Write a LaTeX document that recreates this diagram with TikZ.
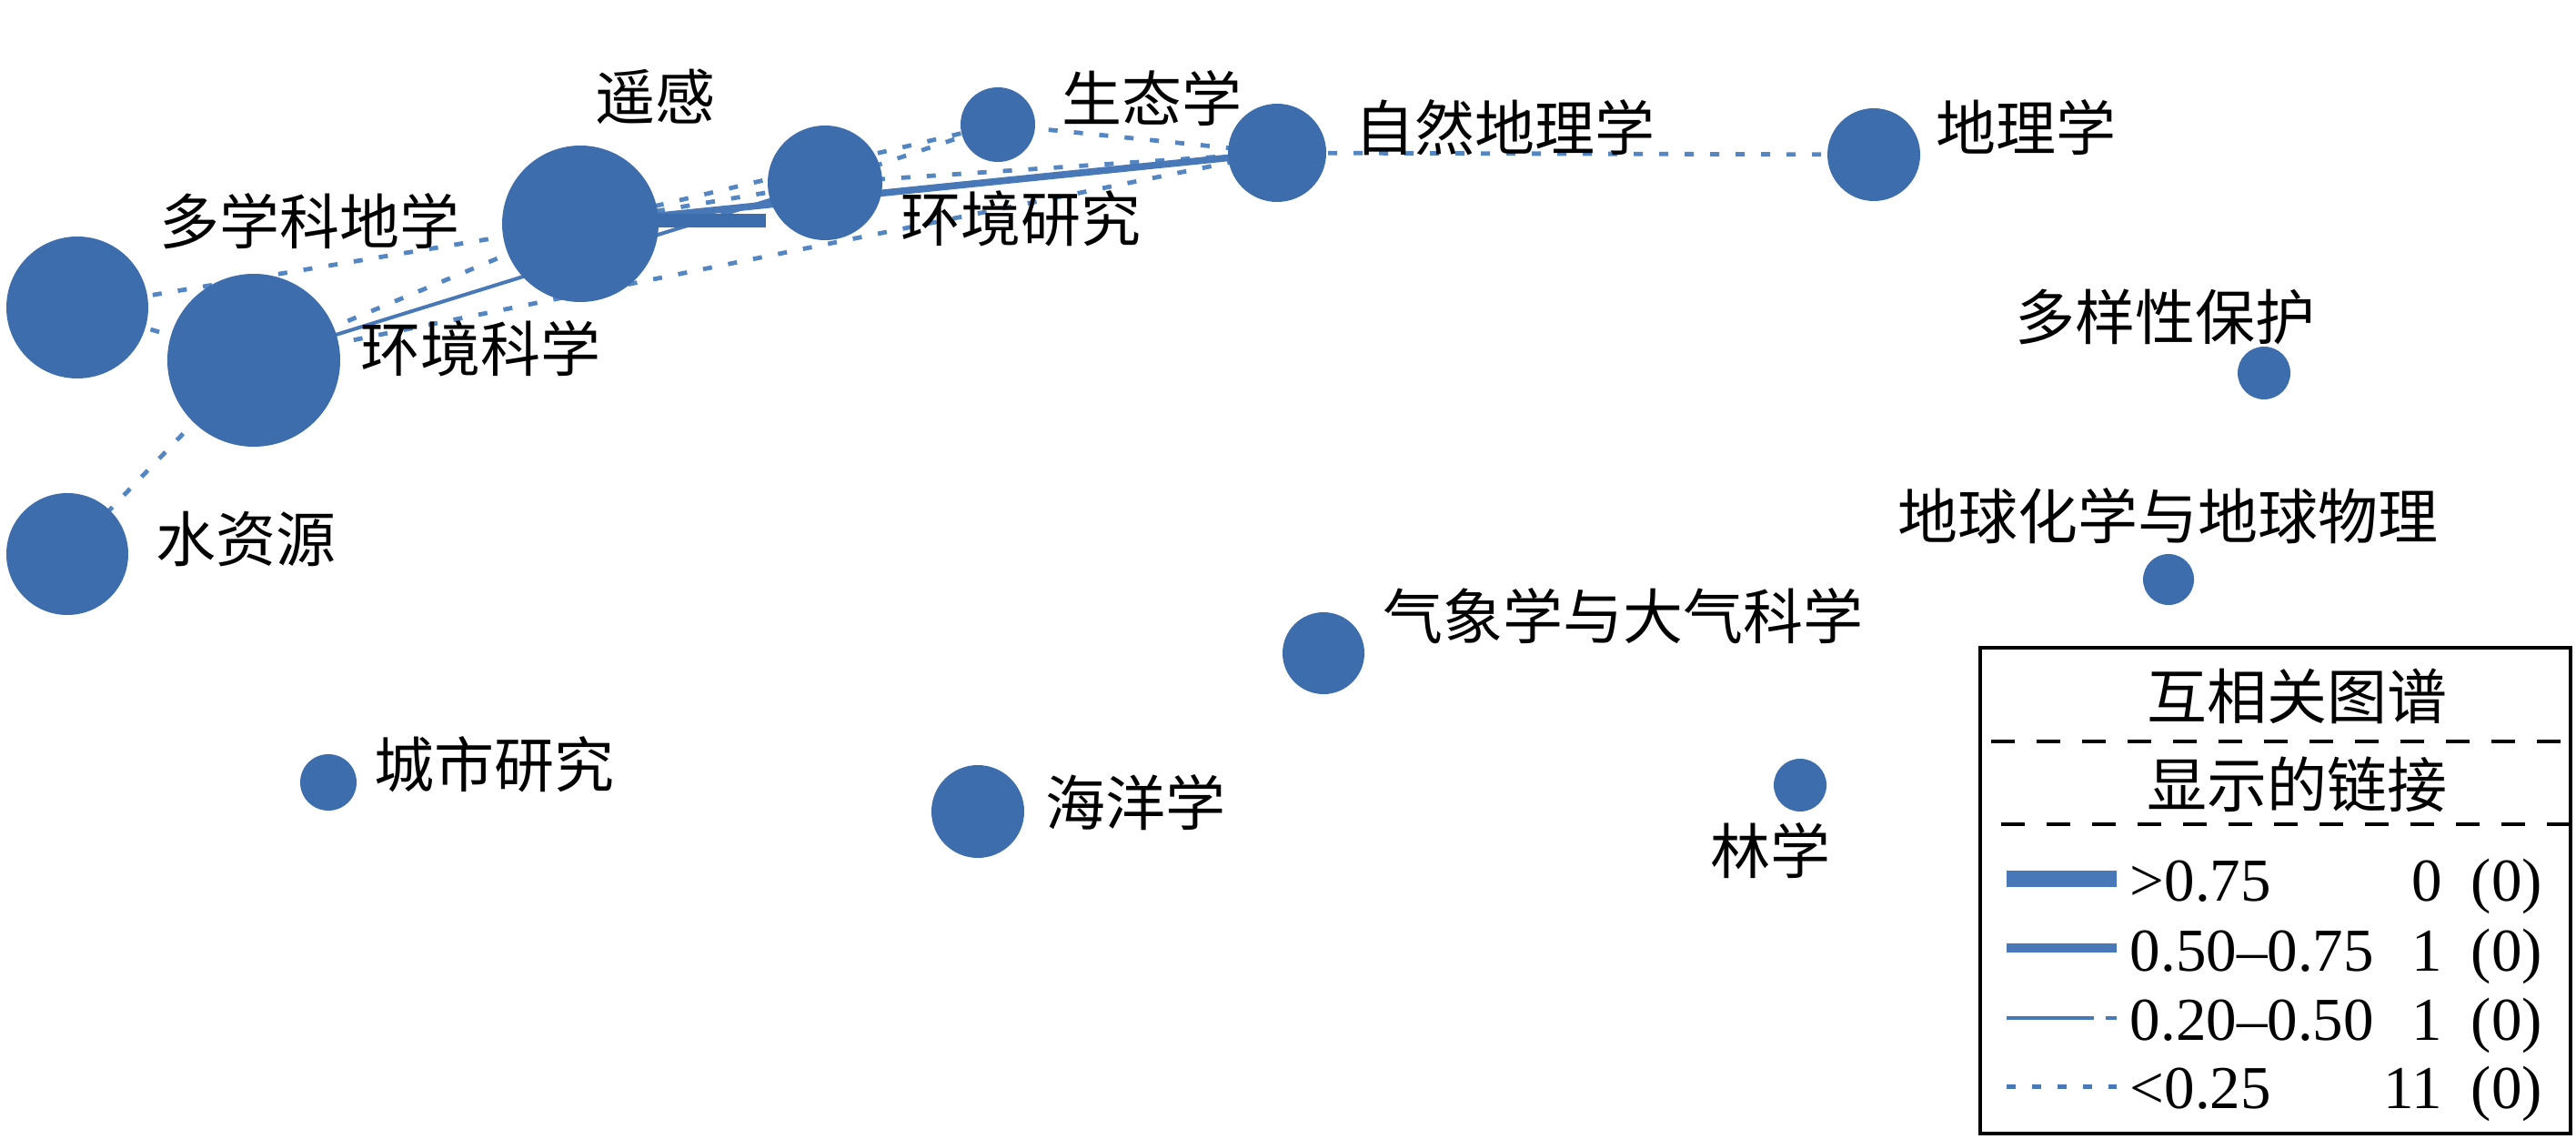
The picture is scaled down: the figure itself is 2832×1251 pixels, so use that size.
\documentclass[tikz,border=0pt]{standalone}
\usepackage{fontspec}
\setmainfont{Liberation Serif}
\newfontfamily\cjk{Noto Sans CJK SC}
\usetikzlibrary{backgrounds}
\definecolor{nb}{RGB}{62,109,174}
\definecolor{lb}{RGB}{84,134,196}
\definecolor{sb}{RGB}{72,120,184}
\begin{document}
\begin{tikzpicture}[x=0.25pt,y=-0.25pt,
  bub/.style={circle,fill=nb,draw=none,inner sep=0pt,minimum size={#1*0.5pt}},
  lab/.style={inner sep=0pt,text=black,font=\cjk\fontsize{16.5pt}{18pt}\selectfont},
  num/.style={inner sep=0pt,text=black,font=\fontsize{16.75pt}{18pt}\selectfont},
  weak/.style={draw=lb,line width=1.2pt,dash pattern=on 2.5pt off 4.5pt},
  midlink/.style={draw=sb,line width=1pt},
  stronglink/.style={draw=sb,line width=1.9pt},
  sep/.style={draw=black,line width=1.2pt,dash pattern=on 6.5pt off 6pt}
]
\useasboundingbox (0,0) rectangle (2832,1251);

% bubbles
\node[bub=78] (dx)   at (85,338)   {};
\node[bub=95] (hjkx) at (279,396)  {};
\node[bub=86] (yg)   at (638,246)  {};
\node[bub=63] (hjyj) at (907,201)  {};
\node[bub=41] (sty)  at (1097,137) {};
\node[bub=54] (zrdl) at (1404,168) {};
\node[bub=51] (dlx)  at (2060,170) {};
\node[bub=29] (dyx)  at (2489,410) {};
\node[bub=28] (dqhx) at (2384,637) {};
\node[bub=45] (qxx)  at (1455,718) {};
\node[bub=51] (hyx)  at (1075,892) {};
\node[bub=29] (lx)   at (1979,863) {};
\node[bub=31] (cs)   at (361,860)  {};
\node[bub=67] (szy)  at (74,609)   {};

% labels
\node[lab] (t-yg)   at (720,106)  {遥感};
\node[lab] (t-dx)   at (340,243)  {多学科地学};
\node[lab] (t-hjkx) at (528,383)  {环境科学};
\node[lab] (t-hjyj) at (1122,240) {环境研究};
\node[lab] (t-sty)  at (1266,108) {生态学};
\node[lab] (t-zrdl) at (1654,140) {自然地理学};
\node[lab] (t-dlx)  at (2227,140) {地理学};
\node[lab] (t-dyx)  at (2380,348) {多样性保护};
\node[lab] (t-dqhx) at (2383,567) {地球化学与地球物理};
\node[lab] (t-qxx)  at (1784,677) {气象学与大气科学};
\node[lab] (t-hyx)  at (1248,882) {海洋学};
\node[lab] (t-lx)   at (1946,935) {林学};
\node[lab] (t-cs)   at (543,840)  {城市研究};
\node[lab] (t-szy)  at (270,593)  {水资源};

% links behind the bubbles
\begin{pgfonlayer}{background}
  \fill[white] (0,0) rectangle (2832,1251);
  \draw[weak] (dx.center) -- (yg.center);
  \draw[weak] (dx.center) -- (hjkx.center);
  \draw[weak] (hjkx.center) -- (szy.center);
  \draw[weak] (hjkx.center) -- (yg.center);
  \draw[weak] (hjkx.center) -- (zrdl.center);
  \draw[weak] (yg.center) -- (sty.center);
  \draw[weak] (yg.center) -- (hjyj.center);
  \draw[weak] (hjyj.center) -- (sty.center);
  \draw[weak] (hjyj.center) -- (zrdl.center);
  \draw[weak] (sty.center) -- (zrdl.center);
  \draw[weak] (zrdl.center) -- (dlx.center);
  \draw[midlink] (hjkx.center) -- (hjyj.center);
  \draw[stronglink] (yg.center) -- (zrdl.center);
\end{pgfonlayer}

% thick bar from 遥感
\coordinate (barend) at (842,243);
\draw[nb,line width=3.75pt] (yg.center) ++(0,-3) -- (barend);

% legend
\draw[line width=1.2pt] (2177,712) rectangle (2826,1246);
\node[lab] (lg-title) at (2525,765) {互相关图谱};
\coordinate (s1a) at (2189,815); \coordinate (s1b) at (2822,815);
\draw[sep] (s1a) -- (s1b);
\node[lab] (lg-sub) at (2525,862) {显示的链接};
\coordinate (s2a) at (2200,906); \coordinate (s2b) at (2826,906);
\draw[sep] (s2a) -- (s2b);

\coordinate (l1a) at (2206,966);  \coordinate (l1b) at (2327,966);
\coordinate (l2a) at (2206,1042); \coordinate (l2b) at (2327,1042);
\coordinate (l3a) at (2206,1119); \coordinate (l3b) at (2327,1119);
\coordinate (l4a) at (2206,1194); \coordinate (l4b) at (2327,1194);
\draw[draw=sb,line width=4.5pt] (l1a) -- (l1b);
\draw[draw=sb,line width=2.5pt] (l2a) -- (l2b);
\draw[draw=sb,line width=1pt,dash pattern=on 24pt off 3.25pt on 3pt off 10pt] (l3a) -- (l3b);
\draw[draw=sb,line width=1.25pt,dash pattern=on 2.5pt off 4.5pt] (l4a) -- (l4b);

\node[num,anchor=base west] (r1) at (2341,990)  {>0.75};
\node[num,anchor=base west] (r2) at (2341,1067) {0.50–0.75};
\node[num,anchor=base west] (r3) at (2341,1143) {0.20–0.50};
\node[num,anchor=base west] (r4) at (2341,1218) {<0.25};
\node[num,anchor=base east] (n1) at (2686,990)  {0};
\node[num,anchor=base east] (n2) at (2686,1067) {1};
\node[num,anchor=base east] (n3) at (2686,1143) {1};
\node[num,anchor=base east] (n4) at (2686,1218) {11};
\node[num,anchor=base west] (p1) at (2716,990)  {(0)};
\node[num,anchor=base west] (p2) at (2716,1067) {(0)};
\node[num,anchor=base west] (p3) at (2716,1143) {(0)};
\node[num,anchor=base west] (p4) at (2716,1218) {(0)};
\end{tikzpicture}
\end{document}
